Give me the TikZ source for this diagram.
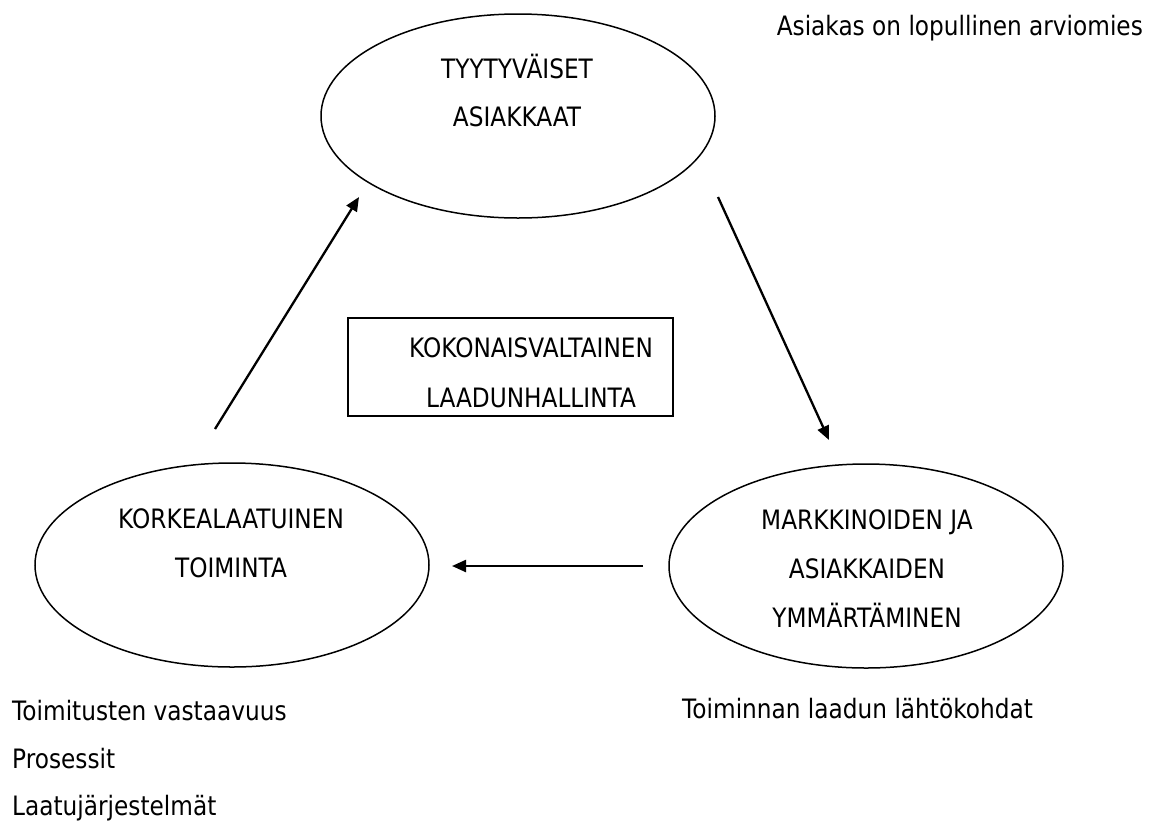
\documentclass[tikz,border=0pt]{standalone}
\usepackage{fontspec}
\setmainfont{DejaVu Sans}[FakeStretch=0.87]
\usetikzlibrary{shapes.geometric,arrows.meta}
\begin{document}
\begin{tikzpicture}[x=1pt,y=-1pt,
  oval/.style={draw, ellipse, line width=1.5pt, minimum width=394pt, minimum height=204pt, inner sep=0pt},
  txt/.style={anchor=base, inner sep=0pt, font=\fontsize{26.7}{32}\selectfont},
  arr/.style={line width=2.3pt, -{Triangle[length=14pt,width=12pt]}},
  frame/.style={draw, line width=1.3pt, minimum width=325pt, minimum height=98pt, inner sep=0pt}]
\useasboundingbox[fill=white] (0,0) rectangle (1158,820);
% ellipses and box
\node[oval] (top) at (518,116) {};
\node[oval] (left) at (232,565) {};
\node[oval] (right) at (866,566) {};
\node[frame] (box) at (510.5,367) {};
% texts
\node[txt] (t1) at (517,78) {TYYTYVÄISET};
\node[txt] (t2) at (517,126) {ASIAKKAAT};
\node[txt] (k1) at (531,357) {KOKONAISVALTAINEN};
\node[txt] (k2) at (531,407) {LAADUNHALLINTA};
\node[txt] (l1) at (231,528) {KORKEALAATUINEN};
\node[txt] (l2) at (231,577) {TOIMINTA};
\node[txt] (r1) at (867,529) {MARKKINOIDEN JA};
\node[txt] (r2) at (867,578) {ASIAKKAIDEN};
\node[txt] (r3) at (867,627) {YMMÄRTÄMINEN};
\node[txt, anchor=base east] (note) at (1143,35) {Asiakas on lopullinen arviomies};
\node[txt, anchor=base west] (bl1) at (12,720) {Toimitusten vastaavuus};
\node[txt, anchor=base west] (bl2) at (12,768) {Prosessit};
\node[txt, anchor=base west] (bl3) at (12,815) {Laatujärjestelmät};
\node[txt, anchor=base west] (br1) at (682,718) {Toiminnan laadun lähtökohdat};
% arrows
\coordinate (a1) at (215,429); \coordinate (a2) at (359,197);
\coordinate (b1) at (718,197); \coordinate (b2) at (829,440);
\coordinate (c1) at (643,566); \coordinate (c2) at (452,566);
\draw[arr] (a1) -- (a2);
\draw[arr] (b1) -- (b2);
\draw[arr] (c1) -- (c2);
\end{tikzpicture}
\end{document}
